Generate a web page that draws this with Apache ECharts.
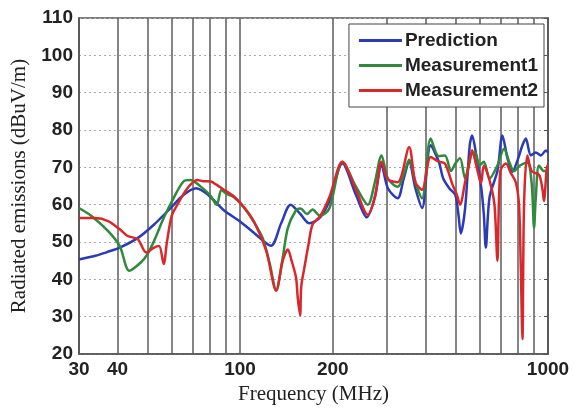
<!DOCTYPE html>
<html>
<head>
<meta charset="utf-8">
<script src="https://cdn.jsdelivr.net/npm/echarts@6/dist/echarts.min.js"></script>
<style>
  html, body { margin: 0; padding: 0; background: #fff; }
  #chart { width: 574px; height: 410px; }
</style>
</head>
<body>
<div id="chart"></div>
<script>
// tick / grid positions (MHz)
const xLabelTicks = [30, 40, 100, 200, 1000];
const xGridTicks = [30, 40, 50, 60, 70, 80, 90, 100, 200, 300, 400, 500, 600, 700, 800, 900, 1000];

// Prediction
const predFreq = [30, 33.9, 37, 40.7, 46.6, 52.6, 59.5, 65.5, 72, 78.8, 88.6, 100, 111.6, 126, 136, 146, 157, 168, 182, 195,
  215, 238, 258, 274, 288, 302, 325, 340, 354, 371, 390, 416, 442, 457, 478, 500, 512, 521, 538, 557,
  567, 585, 606, 619, 628, 646, 685, 711, 739, 766, 797, 826, 847, 880, 913, 948, 985, 1000];
const predVal = [45.3, 46.3, 47.3, 48.5, 51.1, 54.7, 59.1, 62.6, 64.4, 62.6, 58.5, 55.5, 52.3, 49, 55, 60, 57.5, 55, 56.6, 61,
  71, 62.6, 56.6, 62, 70.6, 64.4, 61.7, 67, 71.4, 64.4, 59.1, 75.9, 71.5, 67, 64.4, 62.6, 57.3, 52.3, 59, 75.9,
  78.5, 73.2, 65, 57.3, 48.5, 62, 69, 78.5, 72.4, 68.8, 72, 75.9, 77.7, 73.2, 74, 73.2, 74.5, 74];

// Measurement1
const meas1Freq = [30, 33, 37.3, 40.7, 43.7, 47.6, 50, 52.6, 56.5, 60.8, 65.5, 68.9, 74.4, 80, 84, 87, 90, 95.6, 103.5, 111.6,
  118.5, 125, 131, 137.6, 143, 152, 157, 165, 172, 182, 195, 215, 238, 260, 274, 288, 302, 325, 340, 354,
  371, 390, 416, 442, 463, 484, 500, 518, 538, 562, 580, 599, 619, 646, 685, 720, 748, 776, 811, 857,
  885, 901, 913, 935, 970, 1000];
const meas1Val = [59.1, 56.9, 52.9, 48.9, 42.3, 44.5, 46.7, 50.3, 56.4, 61.7, 66.2, 66.6, 64.9, 62.5, 60, 64, 63, 62, 59, 55,
  51, 44, 37, 45.8, 53.8, 58.5, 59, 57.5, 58.7, 57, 59, 71.5, 64.8, 60, 66, 73.2, 67, 64.8, 68, 72,
  66, 61.7, 77.7, 73, 73.2, 69, 71, 72.4, 67, 73.2, 74, 70.5, 71.5, 67, 70.5, 75, 71.5, 69, 70.5, 71.2,
  65.8, 53.8, 62, 70.5, 69, 69];

// Measurement2
const meas2Freq = [30, 33.9, 37.3, 40.7, 43.2, 46.6, 49.6, 52.6, 54.6, 56.5, 57.9, 60, 62.6, 67.5, 72.6, 76, 80.4, 84, 88.6, 95.6,
  103.5, 111.6, 121.7, 131, 137.6, 143, 147, 152, 154, 156.7, 158, 161.7, 166.9, 172, 182, 195, 215, 238, 260, 274,
  288, 302, 325, 354, 371, 390, 416, 442, 463, 490, 506, 518, 538, 557, 567, 585, 606, 619, 646, 670,
  685, 700, 730, 757, 786, 805, 815, 826, 836, 857, 885, 935, 960, 970, 995, 1000];
const meas2Val = [56.4, 56.4, 55.6, 53.4, 51.6, 50.7, 47.2, 48.5, 48.9, 44.1, 50, 57, 60, 64.4, 66.6, 66.3, 66.2, 65.3, 64, 62.2,
  59.1, 55.1, 47.6, 37, 45, 48, 45, 40.5, 35, 30.4, 38, 43, 49.4, 54.7, 56.9, 62, 71.5, 64, 57.3, 62,
  71.5, 66.8, 66, 75.4, 66, 64, 72.8, 71.5, 71, 65.3, 62.6, 60, 66, 71.5, 74.6, 70.5, 65.8, 70.5, 66.5, 60,
  45, 69, 71, 68.5, 66, 60, 45, 24, 60, 73.2, 69, 68, 64, 61, 70.5, 70];

const pairs = (xs, ys) => xs.map((x, i) => [x, ys[i]]);

const chart = echarts.init(document.getElementById('chart'));

const lineSeries = (name, color, xs, ys) => ({
  name: name,
  type: 'line',
  data: pairs(xs, ys),
  showSymbol: false,
  symbol: 'none',
  smooth: 0.3,
  lineStyle: { color: color, width: 2.5 },
  itemStyle: { color: color },
  animation: false
});

chart.setOption({
  backgroundColor: '#fff',
  animation: false,
  grid: {
    left: 79, right: 26, top: 18, bottom: 52,
    show: true,
    borderColor: '#555',
    borderWidth: 1.5
  },
  legend: {
    orient: 'vertical',
    right: 30,
    top: 24,
    backgroundColor: '#fff',
    borderColor: '#444',
    borderWidth: 1,
    padding: [6, 6, 6, 10],
    itemGap: 4,
    itemWidth: 43,
    itemHeight: 3,
    icon: 'rect',
    textStyle: {
      fontFamily: 'Liberation Sans', fontSize: 19, fontWeight: 'bold', color: '#222',
      lineHeight: 21, padding: [0, 0, 0, -2]
    },
    data: ['Prediction', 'Measurement1', 'Measurement2']
  },
  xAxis: {
    type: 'log',
    logBase: 10,
    min: 30,
    max: 1000,
    name: 'Frequency (MHz)',
    nameLocation: 'middle',
    nameGap: 30,
    nameTextStyle: { fontFamily: 'Liberation Serif', fontSize: 21, color: '#222' },
    axisLine: { lineStyle: { color: '#555', width: 1.5 } },
    axisTick: { show: false, customValues: xGridTicks },
    axisLabel: {
      customValues: xLabelTicks,
      formatter: v => String(v),
      fontFamily: 'Liberation Sans', fontSize: 19, fontWeight: 'bold', color: '#222', margin: 6
    },
    splitLine: { show: true, lineStyle: { color: '#666', width: 1.6, type: 'solid' } }
  },
  yAxis: [{
    type: 'value',
    min: 20,
    max: 110,
    interval: 10,
    name: 'Radiated emissions (dBuV/m)',
    nameLocation: 'middle',
    nameGap: 44,
    nameTextStyle: { fontFamily: 'Liberation Serif', fontSize: 21, color: '#222' },
    axisLine: { show: true, lineStyle: { color: '#555', width: 1.5 } },
    axisTick: { show: false },
    axisLabel: { fontFamily: 'Liberation Sans', fontSize: 19, fontWeight: 'bold', color: '#222', margin: 6 },
    splitLine: { show: true, lineStyle: { color: '#aaa', width: 1, type: [2, 3] } }
  }, {
    type: 'value',
    min: 20,
    max: 110,
    interval: 10,
    position: 'right',
    axisLine: { show: true, lineStyle: { color: '#555', width: 1.5 } },
    axisTick: { show: true, inside: true, length: 4, lineStyle: { color: '#555' } },
    axisLabel: { show: false },
    splitLine: { show: false }
  }],
  series: [
    lineSeries('Prediction', '#2b3bb8', predFreq, predVal),
    lineSeries('Measurement1', '#2f8a3c', meas1Freq, meas1Val),
    lineSeries('Measurement2', '#d9282b', meas2Freq, meas2Val)
  ]
});
</script>
</body>
</html>
